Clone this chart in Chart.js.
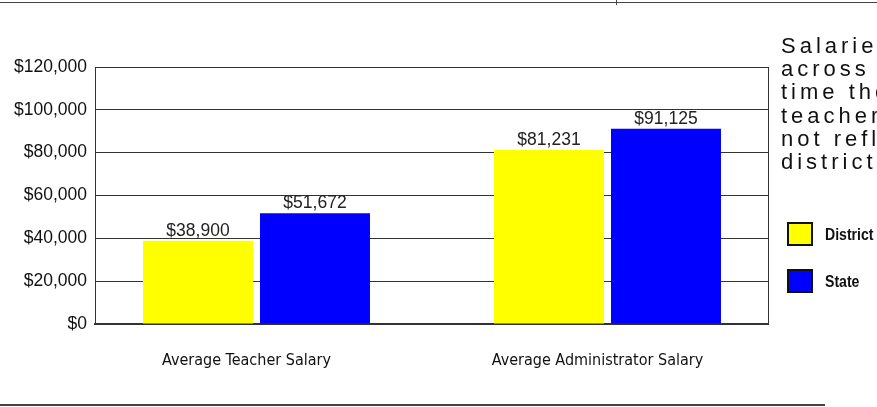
<!DOCTYPE html>
<html lang="en">
<head>
    <meta charset="UTF-8">
    <title>Average Salaries</title>
    <script src="https://cdn.jsdelivr.net/npm/chart.js"></script>
    <style>
        html, body {
            margin: 0;
            padding: 0;
            width: 877px;
            height: 407px;
            overflow: hidden;
            background: #fff;
            font-family: "Liberation Sans", Arial, sans-serif;
        }
        #chartBox {
            position: absolute;
            left: 0;
            top: 0;
            width: 877px;
            height: 407px;
        }
        .rule { position: absolute; background: #444; }
        #note {
            position: absolute;
            left: 781px;
            top: 34px;
            font-size: 22px;
            line-height: 23.2px;
            letter-spacing: 4px;
            color: #111;
            white-space: nowrap;
        }
        .key {
            position: absolute;
            left: 787px;
            width: 22px;
            height: 20px;
            border: 2px solid #111;
        }
        .keyText {
            position: absolute;
            left: 825px;
            font-family: "Liberation Sans", Arial, sans-serif;
            font-weight: bold;
            font-size: 16px;
            line-height: 20px;
            color: #111;
            transform: scaleX(0.88);
            transform-origin: 0 0;
        }
    </style>
</head>
<body>
    <div class="rule" style="left:0;top:2px;width:877px;height:1px;"></div>
    <div class="rule" style="left:616px;top:0;width:1px;height:5px;"></div>
    <div class="rule" style="left:0;top:404px;width:825px;height:2px;"></div>

    <div id="chartBox"><canvas id="salaryChart"></canvas></div>

    <div id="note">
        <div>Salaries vary</div>
        <div>across the state. At the</div>
        <div>time the data were</div>
        <div>teacher salaries may</div>
        <div>not reflect all of the</div>
        <div>district.</div>
    </div>

    <div class="key" style="top:222px;background:#ffff00;"></div>
    <div class="keyText" style="top:225px;">District</div>
    <div class="key" style="top:269px;background:#0000ff;"></div>
    <div class="keyText" style="top:272px;">State</div>

    <script>
        const categories = ['Average Teacher Salary', 'Average Administrator Salary'];
        const districtValues = [38900, 81231];
        const stateValues = [51672, 91125];
        const yTicks = [0, 20000, 40000, 60000, 80000, 100000, 120000];

        const money = v => '$' + v.toLocaleString('en-US');

        // value labels above each bar
        const valueLabels = {
            id: 'valueLabels',
            afterDatasetsDraw(chart) {
                const ctx = chart.ctx;
                ctx.save();
                ctx.font = '17.5px "Liberation Sans", Arial, sans-serif';
                ctx.fillStyle = '#222';
                ctx.textAlign = 'center';
                ctx.textBaseline = 'alphabetic';
                chart.data.datasets.forEach((ds, di) => {
                    chart.getDatasetMeta(di).data.forEach((bar, i) => {
                        ctx.fillText(money(ds.data[i].y), bar.x, bar.y - 5);
                    });
                });
                ctx.restore();
            }
        };

        // right edge of the plot frame
        const frameRight = {
            id: 'frameRight',
            afterDraw(chart) {
                const a = chart.chartArea;
                const ctx = chart.ctx;
                ctx.save();
                ctx.strokeStyle = '#333';
                ctx.lineWidth = 1;
                ctx.beginPath();
                ctx.moveTo(a.right + 0.5, a.top);
                ctx.lineTo(a.right + 0.5, a.bottom);
                ctx.stroke();
                ctx.restore();
            }
        };

        const toPoints = arr => arr.map((v, i) => ({ x: i, y: v }));

        new Chart(document.getElementById('salaryChart'), {
            type: 'bar',
            data: {
                datasets: [
                    {
                        label: 'District',
                        data: toPoints(districtValues),
                        backgroundColor: '#ffff00',
                        borderWidth: 0,
                        categoryPercentage: 0.6667,
                        barPercentage: 0.94
                    },
                    {
                        label: 'State',
                        data: toPoints(stateValues),
                        backgroundColor: '#0000ff',
                        borderWidth: 0,
                        categoryPercentage: 0.6667,
                        barPercentage: 0.94
                    }
                ]
            },
            options: {
                responsive: true,
                maintainAspectRatio: false,
                animation: false,
                layout: { padding: { left: 0, top: 67, right: 109, bottom: 0 } },
                plugins: {
                    legend: { display: false },
                    tooltip: { enabled: false }
                },
                scales: {
                    x: {
                        type: 'linear',
                        offset: false,
                        min: -0.4601,
                        max: 1.4573,
                        afterBuildTicks: scale => {
                            scale.ticks = categories.map((c, i) => ({ value: i }));
                        },
                        afterFit: scale => { scale.height = 83; },
                        grid: { display: false, drawTicks: false, offset: false },
                        border: { display: true, color: '#333', width: 2 },
                        ticks: {
                            padding: 27,
                            labelOffset: -10,
                            maxRotation: 0,
                            autoSkip: false,
                            color: '#111',
                            font: { family: '"DejaVu Sans Condensed", "Liberation Sans Narrow", sans-serif', size: 16 },
                            callback: v => categories[v]
                        }
                    },
                    y: {
                        min: 0,
                        max: 120000,
                        afterBuildTicks: scale => {
                            scale.ticks = yTicks.map(v => ({ value: v }));
                        },
                        afterFit: scale => { scale.width = 95; },
                        grid: { color: '#333', lineWidth: 1, drawTicks: false },
                        border: { display: true, color: '#333', width: 1 },
                        ticks: {
                            padding: 8,
                            color: '#111',
                            font: { family: '"Liberation Sans", Arial, sans-serif', size: 17.5 },
                            callback: v => money(v)
                        }
                    }
                }
            },
            plugins: [valueLabels, frameRight]
        });
    </script>
</body>
</html>
